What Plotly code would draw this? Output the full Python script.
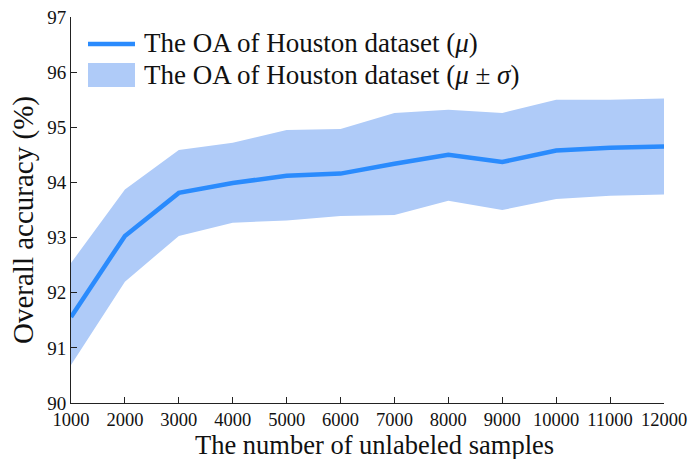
import plotly.graph_objects as go

samples = [1000, 2000, 3000, 4000, 5000, 6000, 7000, 8000, 9000, 10000, 11000, 12000]
oa_mean = [91.56, 93.03, 93.81, 93.99, 94.12, 94.16, 94.34, 94.50, 94.37, 94.58, 94.63, 94.65]
oa_upper = [92.54, 93.87, 94.59, 94.72, 94.95, 94.97, 95.26, 95.32, 95.26, 95.50, 95.50, 95.52]
oa_lower = [90.69, 92.20, 93.03, 93.27, 93.31, 93.39, 93.41, 93.67, 93.50, 93.70, 93.76, 93.78]
x_ticks = samples
y_ticks = [90, 91, 92, 93, 94, 95, 96, 97]
legend_labels = ["The OA of Houston dataset (<i>μ</i>)",
                 "The OA of Houston dataset (<i>μ</i> ± <i>σ</i>)"]
x_title = "The number of unlabeled samples"
y_title = "Overall accuracy (%)"

font_family = "Liberation Serif, Times New Roman, serif"
line_color = "#2a8bfd"
band_color = "#afcbf8"

W, H = 692, 459
ML, MR, MT, MB = 71, 28, 17, 56
PW, PH = W - ML - MR, H - MT - MB


def px(xp):
    return (xp - ML) / PW


def py(yp):
    return (H - MB - yp) / PH


fig = go.Figure()
fig.add_trace(go.Scatter(
    x=samples + samples[::-1],
    y=oa_upper + oa_lower[::-1],
    fill="toself", fillcolor=band_color,
    line=dict(width=0, color=band_color),
    mode="lines", hoverinfo="skip", showlegend=False,
    name=legend_labels[1],
))
fig.add_trace(go.Scatter(
    x=samples, y=oa_mean, mode="lines",
    line=dict(color=line_color, width=4.5),
    name=legend_labels[0], showlegend=False,
))

# legend drawn as decoration (sample line, sample patch, texts)
fig.add_shape(type="line", xref="paper", yref="paper",
              x0=px(88), x1=px(135), y0=py(44), y1=py(44),
              line=dict(color=line_color, width=4.5))
fig.add_shape(type="rect", xref="paper", yref="paper",
              x0=px(88), x1=px(135), y0=py(87), y1=py(63),
              fillcolor=band_color, line=dict(width=0))
for lbl, ypix in zip(legend_labels, [43, 75]):
    fig.add_annotation(text=lbl, xref="paper", yref="paper",
                       x=px(142), y=py(ypix), xanchor="left", yanchor="middle",
                       showarrow=False,
                       font=dict(family=font_family, size=27, color="#111"))

# axis titles
fig.add_annotation(text=x_title, xref="paper", yref="paper",
                   x=px(374), y=py(444.5), xanchor="center", yanchor="middle",
                   showarrow=False, borderpad=0,
                   font=dict(family=font_family, size=26.5, color="#111"))
fig.add_annotation(text=y_title, xref="paper", yref="paper",
                   x=px(23), y=py(220), xanchor="center", yanchor="middle",
                   textangle=-90, showarrow=False,
                   font=dict(family=font_family, size=29, color="#111"))

axis_common = dict(
    showline=True, linecolor="#222", linewidth=1,
    ticks="inside", ticklen=6, tickcolor="#222",
    showgrid=False, zeroline=False, mirror=False, automargin=False,
)

fig.update_layout(
    width=W, height=H,
    margin=dict(l=ML, r=MR, t=MT, b=MB),
    paper_bgcolor="white", plot_bgcolor="white",
    font=dict(family=font_family, color="#111"),
    showlegend=False,
    xaxis=dict(
        range=[1000, 12000], tickvals=x_ticks,
        ticktext=[str(v) for v in x_ticks],
        tickfont=dict(family=font_family, size=18.5, color="#111"),
        **axis_common,
    ),
    yaxis=dict(
        range=[90, 97], tickvals=y_ticks,
        tickfont=dict(family=font_family, size=19, color="#111"),
        **axis_common,
    ),
)

fig.write_html("out.html")
